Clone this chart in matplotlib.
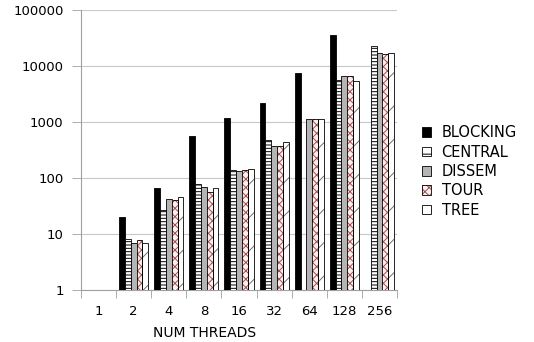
import matplotlib
matplotlib.use('Agg')
import matplotlib.pyplot as plt
from matplotlib.patches import Patch
import numpy as np

nan = np.nan
threads = ['1', '2', '4', '8', '16', '32', '64', '128', '256']
blocking = [nan, 20, 65, 560, 1170, 2230, 7680, 37000, nan]
central = [nan, 8.2, 27, 77, 141, 472, nan, 5750, 23300]
dissem = [nan, 6.9, 41.6, 69, 132, 380, 1120, 6650, 17300]
tour = [nan, 7.7, 39.6, 55, 139, 375, 1120, 6650, 16800]
tree = [nan, 6.8, 44.6, 65, 147, 440, 1120, 5430, 17500]
names = ['BLOCKING', 'CENTRAL', 'DISSEM', 'TOUR', 'TREE']

plt.rcParams['font.family'] = 'DejaVu Sans'
plt.rcParams['hatch.linewidth'] = 0.7

fig = plt.figure(figsize=(5.34, 3.42), dpi=100)
ax = fig.add_axes([0.1517, 0.1535, 0.5918, 0.8158])

x = np.arange(len(threads))
w = 0.166
offs = (np.arange(5) - 2) * w

ax.bar(x + offs[0], blocking, w, color='black', edgecolor='black', linewidth=0.6, zorder=3)
ax.bar(x + offs[1], central, w, color='white', edgecolor='black', linewidth=0.6,
       hatch='-----', zorder=3)
ax.bar(x + offs[2], dissem, w, color='#b4b4b4', edgecolor='black', linewidth=0.6, zorder=3)
# tour: pink crosshatch, then black outline on top
ax.bar(x + offs[3], tour, w, color='#fbf0f0', edgecolor='#a84c4c', linewidth=0,
       hatch='xxxx', zorder=3)
ax.bar(x + offs[3], tour, w, fill=False, edgecolor='black', linewidth=0.6, zorder=4)
# tree: white with faint sparse diagonals
ax.bar(x + offs[4], tree, w, color='white', edgecolor='#707070', linewidth=0,
       hatch='/', zorder=3)
ax.bar(x + offs[4], tree, w, fill=False, edgecolor='black', linewidth=0.6, zorder=4)

ax.set_yscale('log')
ax.set_ylim(1, 100000)
ax.set_xlim(-0.5, len(threads) - 0.5)
ax.set_yticks([1, 10, 100, 1000, 10000, 100000])
ax.set_yticklabels(['1', '10', '100', '1000', '10000', '100000'], fontsize=9.5)
ax.yaxis.set_minor_locator(matplotlib.ticker.NullLocator())
ax.tick_params(axis='y', length=6.5, width=0.6, color='#a0a0a0', pad=6)

ax.set_xticks(x)
ax.set_xticklabels(threads, fontsize=9.5)
ax.set_xticks(np.arange(len(threads) + 1) - 0.5, minor=True)
ax.tick_params(axis='x', which='major', length=0, pad=11)
ax.tick_params(axis='x', which='minor', length=5.5, width=0.6, color='#a0a0a0')

ax.grid(axis='y', color='#c8c8c8', linewidth=0.8, zorder=0)
for s in ['top', 'right']:
    ax.spines[s].set_visible(False)
for s in ['left', 'bottom']:
    ax.spines[s].set_color('#a0a0a0')
    ax.spines[s].set_linewidth(0.8)

ax.set_xlabel('NUM THREADS', fontsize=10)
ax.xaxis.set_label_coords(0.39, -0.13)

handles = [
    Patch(facecolor='black', edgecolor='black', linewidth=0.6),
    Patch(facecolor='white', edgecolor='black', linewidth=0.6, hatch='--'),
    Patch(facecolor='#b4b4b4', edgecolor='black', linewidth=0.6),
    (Patch(facecolor='#fbf0f0', edgecolor='#a84c4c', linewidth=0, hatch='xxxx'),
     Patch(fill=False, edgecolor='black', linewidth=0.6)),
    Patch(facecolor='white', edgecolor='black', linewidth=0.6),
]
fig.legend(handles, names, loc='upper left', bbox_to_anchor=(0.79, 0.634),
           frameon=False, fontsize=10.5, handlelength=0.65, handleheight=0.65,
           handletextpad=0.7, labelspacing=0.3, borderpad=0, borderaxespad=0)

fig.savefig('out.png', dpi=100)
